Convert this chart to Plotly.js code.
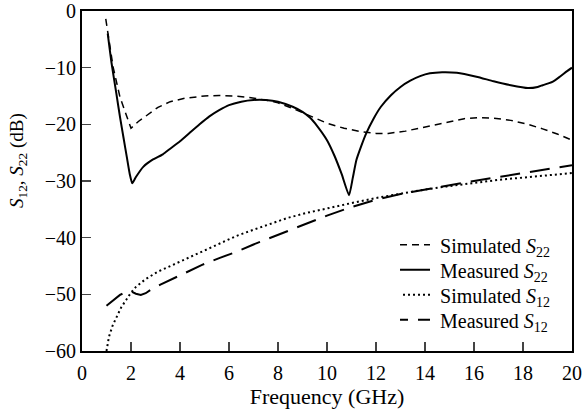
<!DOCTYPE html>
<html>
<head>
<meta charset="utf-8">
<script src="https://cdn.plot.ly/plotly-3.0.1.min.js"></script>
<style>html,body{margin:0;padding:0;background:#fff;}#chart{width:582px;height:411px;}</style>
</head>
<body>
<div id="chart"></div>
<script>
const simS22_x = [0.97,1.27,1.55,1.83,2.0,2.3,2.7,3.1,3.6,4.2,5.0,5.6,6.2,6.9,7.6,8.0,8.6,9.3,10.0,10.7,11.4,12.0,12.5,13.2,14.1,15.0,15.6,16.2,16.8,17.5,18.2,18.8,19.4,20.0];
const simS22_y = [-1.4,-9.9,-15.2,-18.7,-20.7,-19.5,-18.2,-17.0,-16.0,-15.4,-15.0,-14.9,-15.0,-15.3,-15.8,-16.2,-17.2,-18.5,-19.8,-20.7,-21.3,-21.6,-21.6,-21.2,-20.4,-19.5,-19.0,-18.8,-18.9,-19.3,-20.0,-20.8,-21.7,-22.8];

const meaS22_x = [1.05,1.2,1.4,1.55,1.7,1.83,1.95,2.05,2.2,2.5,2.9,3.3,3.6,4.0,4.4,4.8,5.2,5.6,6.0,6.5,7.0,7.5,8.0,8.6,9.0,9.3,9.6,10.0,10.3,10.6,10.9,11.05,11.2,11.4,11.6,11.9,12.2,12.6,13.0,13.4,13.8,14.2,14.7,15.3,16.1,16.8,17.5,18.2,18.6,18.8,19.2,19.5,19.8,20.0];
const meaS22_y = [-4.0,-9.0,-14.5,-18.7,-22.5,-25.8,-28.8,-30.4,-29.3,-27.5,-26.2,-25.3,-24.3,-23.0,-21.5,-20.0,-18.6,-17.5,-16.6,-16.0,-15.7,-15.7,-16.0,-16.9,-17.8,-18.8,-20.3,-22.8,-25.5,-28.8,-32.5,-29.5,-26.3,-23.8,-21.6,-19.0,-16.9,-14.9,-13.4,-12.3,-11.5,-11.0,-10.8,-10.9,-11.6,-12.4,-13.1,-13.6,-13.4,-13.1,-12.5,-11.6,-10.6,-10.0];

const simS12_x = [1.0,1.1,1.25,1.4,1.6,1.8,2.0,2.2,2.6,3.1,3.7,4.3,5.0,5.6,6.3,7.0,7.7,8.4,9.2,10,11,12,13,14,15,16,17,18,19,20];
const simS12_y = [-60,-57.5,-55.5,-54,-52.3,-51,-49.7,-48.7,-47.3,-46,-44.8,-43.7,-42.2,-41,-39.7,-38.6,-37.5,-36.5,-35.6,-34.8,-33.9,-33.0,-32.2,-31.5,-30.9,-30.3,-29.8,-29.4,-29.0,-28.6];

const meaS12_x = [1.0,1.3,1.55,1.8,2.0,2.2,2.4,2.6,2.8,3.2,3.6,4.2,4.9,5.6,6.3,7.0,7.7,8.4,9.0,10,11,12,13,14,15,16,17,18,19,20];
const meaS12_y = [-52,-51,-50.1,-49.6,-49.5,-49.9,-50.1,-49.8,-49.2,-48.3,-47.5,-46.2,-44.8,-43.6,-42.5,-41.2,-40.0,-38.9,-37.8,-36.1,-34.6,-33.3,-32.3,-31.5,-30.8,-30.0,-29.3,-28.6,-27.9,-27.2];

const names = ['Simulated <i>S</i><sub>22</sub>','Measured <i>S</i><sub>22</sub>','Simulated <i>S</i><sub>12</sub>','Measured <i>S</i><sub>12</sub>'];
const xTicks = [0,2,4,6,8,10,12,14,16,18,20];
const yTicks = [-60,-50,-40,-30,-20,-10,0];
const xTitle = 'Frequency (GHz)';
const yTitle = '<i>S</i><sub>12</sub>, <i>S</i><sub>22</sub> (dB)';

const F = 'Liberation Serif, Times New Roman, serif';
const traces = [
  {x: simS22_x, y: simS22_y, name: names[0], mode:'lines', line:{color:'#000', width:1.5, dash:'7px,5px'}},
  {x: meaS22_x, y: meaS22_y, name: names[1], mode:'lines', line:{color:'#000', width:2, dash:'solid', shape:'spline', smoothing:0.5}},
  {x: simS12_x, y: simS12_y, name: names[2], mode:'lines', line:{color:'#000', width:2, dash:'2px,3px'}},
  {x: meaS12_x, y: meaS12_y, name: names[3], mode:'lines', line:{color:'#000', width:2, dash:'20px,10px'}}
];
const layout = {
  width:582, height:411,
  margin:{l:82, r:10, t:11, b:60},
  paper_bgcolor:'#fff', plot_bgcolor:'#fff',
  font:{family:F, size:20, color:'#000'},
  showlegend:true,
  legend:{x:0.649, xanchor:'left', y:0.37, yanchor:'top', bgcolor:'rgba(0,0,0,0)', font:{family:F, size:20}, tracegroupgap:0, itemwidth:30},
  xaxis:{range:[0,20], tickvals:xTicks, ticktext:xTicks.map(String), ticks:'inside', ticklen:9, tickwidth:1.5, showline:true, linewidth:2, linecolor:'#000', mirror:true, showgrid:false, zeroline:false, automargin:false,
    tickfont:{family:F, size:20}, ticklabelstandoff:3,
    title:{text:xTitle, font:{family:F, size:22}, standoff:6}},
  yaxis:{range:[-60,0], tickvals:yTicks, ticks:'inside', ticklen:9, tickwidth:1.5, showline:true, linewidth:2, linecolor:'#000', mirror:true, showgrid:false, zeroline:false, automargin:false,
    tickfont:{family:F, size:20}},
  annotations:[{text:yTitle, xref:'paper', yref:'paper', x:0, y:0.559, xshift:-64, xanchor:'center', yanchor:'middle', textangle:-90, showarrow:false, font:{family:F, size:19}}]
};
function tweakLegend(gd){
  const items = gd.querySelectorAll('g.legend g.traces');
  let x0 = null, y0 = null;
  items.forEach(function(g, i){
    const m = /translate\(\s*([-\d.]+)[ ,]+([-\d.]+)\s*\)/.exec(g.getAttribute('transform') || '');
    if (!m) return;
    if (x0 === null) { x0 = parseFloat(m[1]); y0 = parseFloat(m[2]); }
    g.setAttribute('transform', 'translate(' + x0 + ',' + (y0 + i * 25) + ')');
  });
  gd.querySelectorAll('g.legend path.js-line').forEach(function(p){ p.setAttribute('d','M-12,0h42'); });
}
Plotly.newPlot('chart', traces, layout, {staticPlot:true, displayModeBar:false}).then(function(gd){
  tweakLegend(gd);
  setTimeout(function(){ tweakLegend(gd); }, 50);
});
</script>
</body>
</html>
